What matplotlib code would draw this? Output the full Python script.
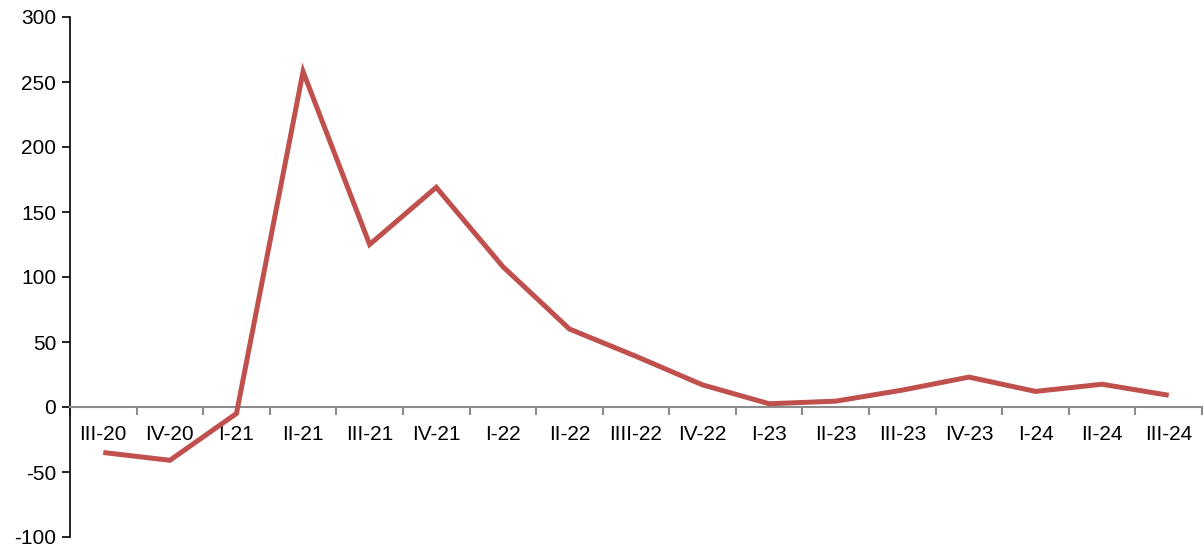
import matplotlib
matplotlib.use("Agg")
import matplotlib.pyplot as plt
from matplotlib.ticker import FixedLocator, MultipleLocator

plt.rcParams['font.family'] = ['Liberation Sans', 'DejaVu Sans']
plt.rcParams['axes.unicode_minus'] = False

quarters = ["III-20", "IV-20", "I-21", "II-21", "III-21", "IV-21", "I-22", "II-22",
            "IIII-22", "IV-22", "I-23", "II-23", "III-23", "IV-23", "I-24", "II-24", "III-24"]
values = [-35, -41, -5, 258, 125, 169, 108, 60, 39, 17, 2.5, 4.5, 13, 23, 12, 17.5, 9]

fig = plt.figure(figsize=(12.04, 5.5), dpi=100)
ax = fig.add_axes([70/1204, 13/550, 1132/1204, 520/550])

x = list(range(len(quarters)))
ax.plot(x, values, color="#C0504D", linewidth=3.6, solid_joinstyle="miter",
        solid_capstyle="butt", zorder=3)

ax.set_xlim(-0.5, len(quarters) - 0.5)
ax.set_ylim(-100, 300)
ax.yaxis.set_major_locator(MultipleLocator(50))

for s in ("top", "right"):
    ax.spines[s].set_visible(False)
ax.spines["bottom"].set_position(("data", 0))
ax.spines["bottom"].set_color("#8c8c8c")
ax.spines["bottom"].set_linewidth(1.5)
ax.spines["left"].set_color("#000000")
ax.spines["left"].set_linewidth(1.2)

ax.set_xticks(x)
ax.set_xticklabels(quarters)
ax.xaxis.set_minor_locator(FixedLocator([i - 0.5 for i in range(len(quarters) + 1)]))
ax.tick_params(axis="x", which="major", length=0, pad=13, labelsize=15)
ax.tick_params(axis="x", which="minor", length=6, width=1.5, color="#8c8c8c", direction="out")
ax.tick_params(axis="y", which="major", length=6, width=1.2, direction="out", labelsize=15, pad=4)

fig.savefig("out.png", dpi=100)
